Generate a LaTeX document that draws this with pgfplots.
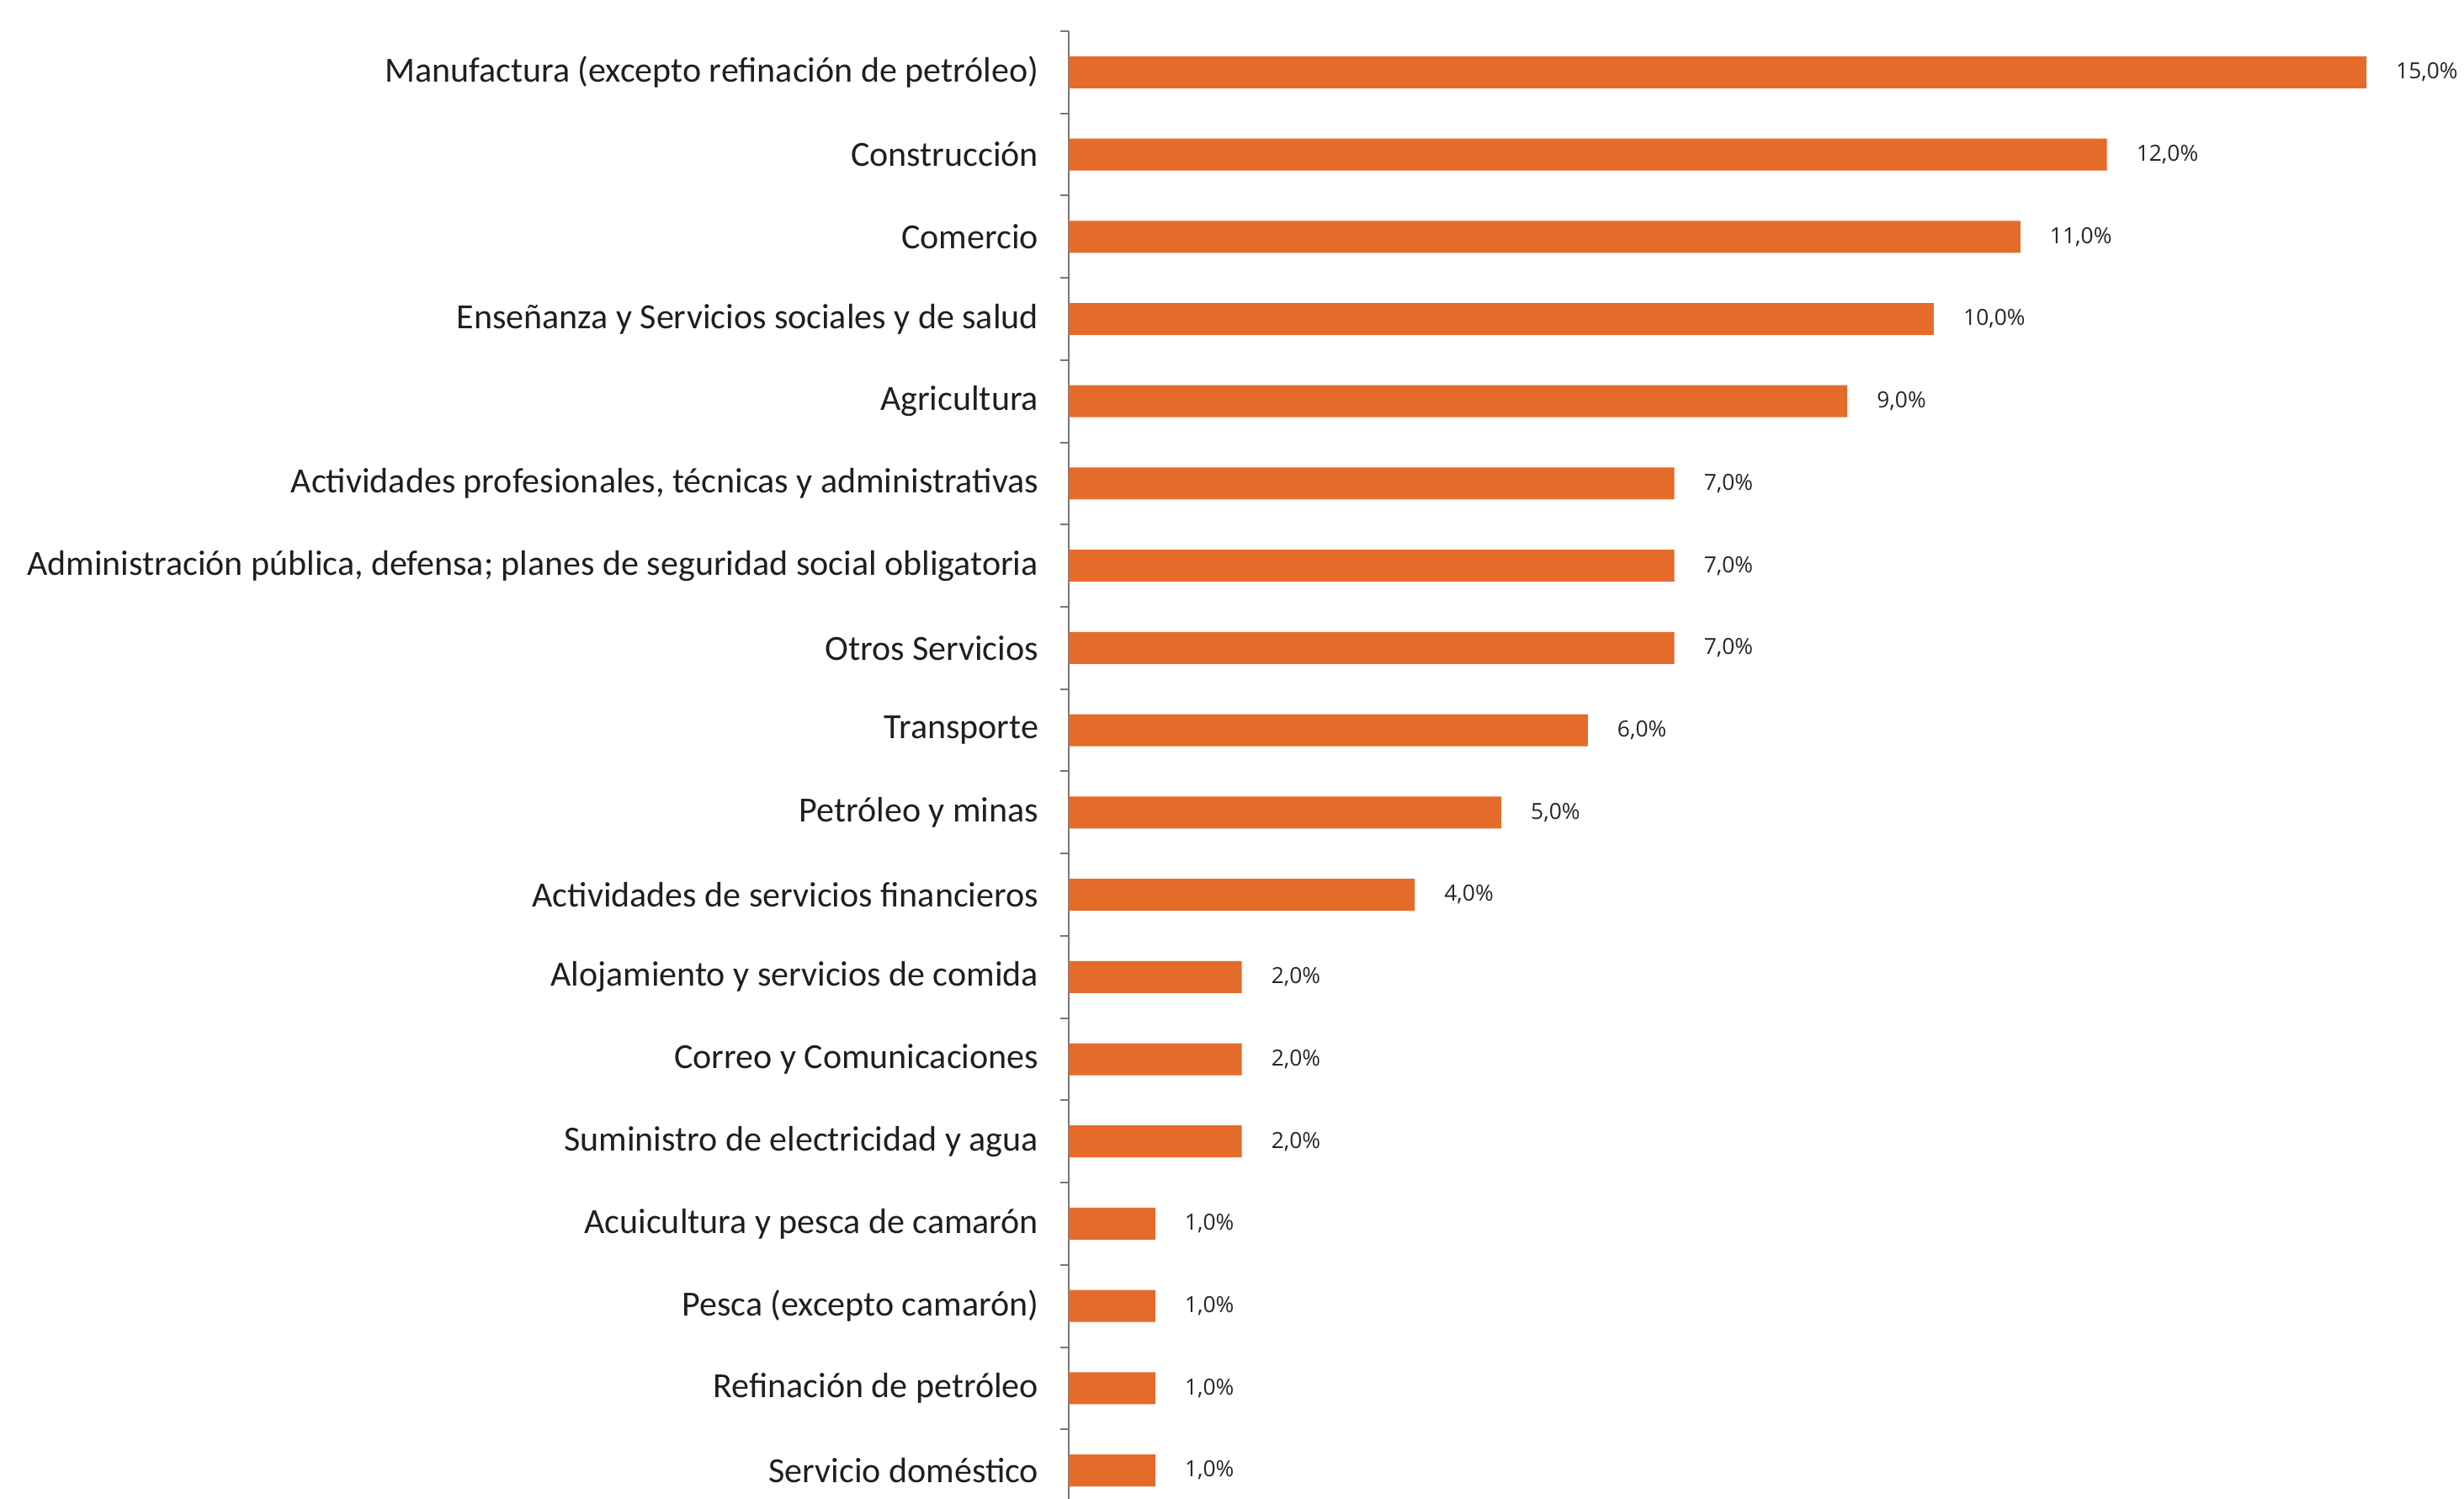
\documentclass[border=0pt]{standalone}
\usepackage{pgfplots}
\pgfplotsset{compat=1.18}
\usepackage{fontspec}
\setmainfont{Carlito}
\newfontfamily\valfont{Open Sans}
\definecolor{barc}{RGB}{229,107,43}
\definecolor{axc}{RGB}{120,120,120}
\begin{document}
\begin{tikzpicture}
\begin{axis}[
  x=25.7bp, y=24.43bp, y dir=reverse,
  xmin=0, xmax=15.5, ymin=-0.5, ymax=17.5,
  axis x line=none,
  axis y line*=left,
  axis line style={axc, line width=0.5bp},
  xbar, bar width=9.5bp, bar shift=0pt,
  ytick={0,...,17},
  minor ytick={-0.5,0.5,...,17.5},
  major tick length=0pt,
  minor tick length=2.6bp,
  tick align=outside,
  minor tick style={axc, line width=0.5bp},
  yticklabels={
    Manufactura (excepto refinación de petróleo),
    Construcción,
    Comercio,
    Enseñanza y Servicios sociales y de salud,
    Agricultura,
    {Actividades profesionales, técnicas y administrativas},
    {Administración pública, defensa; planes de seguridad social obligatoria},
    Otros Servicios,
    Transporte,
    Petróleo y minas,
    Actividades de servicios financieros,
    Alojamiento y servicios de comida,
    Correo y Comunicaciones,
    Suministro de electricidad y agua,
    Acuicultura y pesca de camarón,
    Pesca (excepto camarón),
    Refinación de petróleo,
    Servicio doméstico},
  yticklabel style={font=\fontsize{10.5bp}{12.5bp}\selectfont, text=black!88, inner sep=0pt, xshift=-8.8bp},
  /pgf/number format/assume math mode=true,
  point meta=x,
  nodes near coords={\pgfmathprintnumber[fixed,fixed zerofill,precision=1,use comma]{\pgfplotspointmeta}\%},
  nodes near coords style={font=\valfont\fontsize{6.6bp}{8bp}\selectfont, text=black!85, anchor=west, inner sep=0pt, xshift=8.6bp},
  clip=false,
]
\addplot[fill=barc, draw=none] coordinates {
 (15,0) (12,1) (11,2) (10,3) (9,4) (7,5) (7,6) (7,7) (6,8) (5,9)
 (4,10) (2,11) (2,12) (2,13) (1,14) (1,15) (1,16) (1,17)};
\coordinate (O) at (axis cs:0,-0.5);
\end{axis}
\pgfresetboundingbox
\path (O) ++(-317.5bp,9.25bp) rectangle ++(732bp,-445.25bp);
\end{tikzpicture}
\end{document}
